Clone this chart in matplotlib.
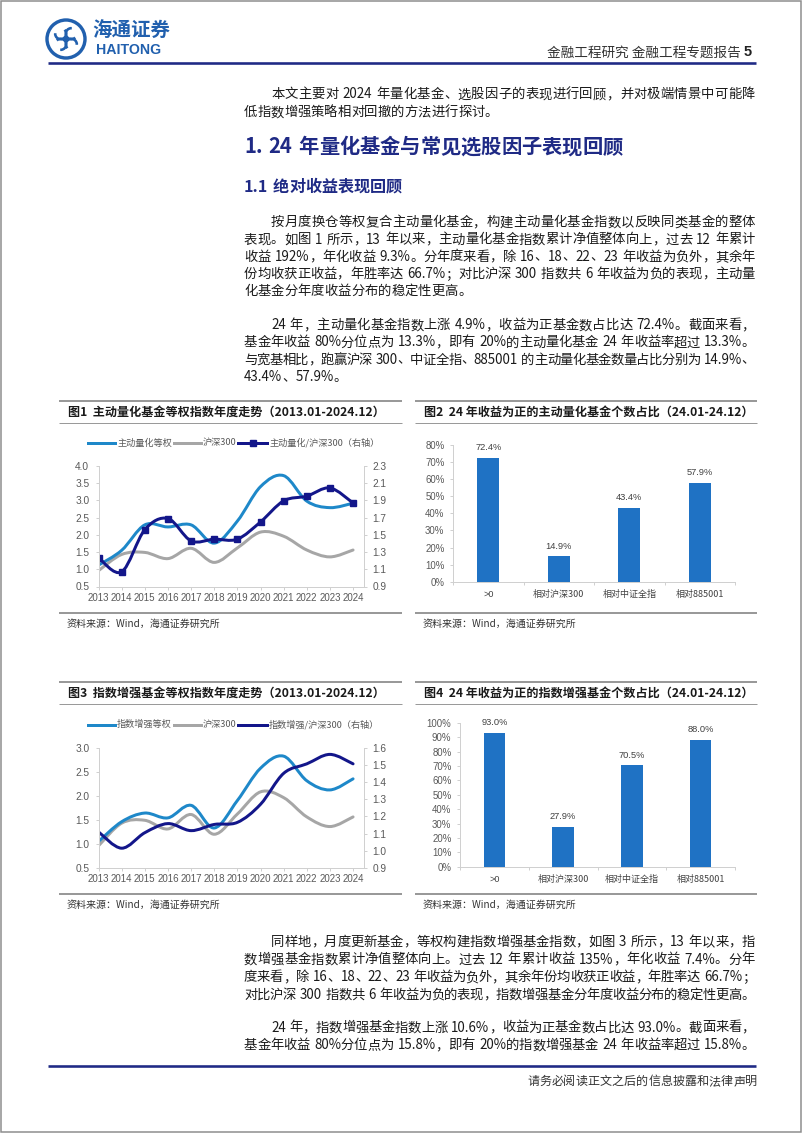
import matplotlib
matplotlib.use('Agg')
import matplotlib.pyplot as plt
from matplotlib.path import Path
from matplotlib.patches import PathPatch, Circle, Arc, Rectangle
from matplotlib.lines import Line2D
import numpy as np

# ---------------- data ----------------
years = ['2013', '2014', '2015', '2016', '2017', '2018', '2019', '2020', '2021', '2022', '2023', '2024']
quant_eq = [1.12, 1.55, 2.29, 2.23, 2.29, 1.76, 2.40, 3.40, 3.72, 2.98, 2.79, 2.92]
hs300 = [0.96, 1.43, 1.49, 1.31, 1.61, 1.20, 1.62, 2.08, 1.96, 1.56, 1.36, 1.56]
quant_ratio = [1.235, 1.07, 1.56, 1.69, 1.43, 1.45, 1.45, 1.65, 1.895, 1.95, 2.045, 1.87]
enh_eq = [1.05, 1.46, 1.64, 1.54, 1.80, 1.33, 1.90, 2.57, 2.82, 2.31, 2.12, 2.35]
enh_ratio = [1.11, 1.015, 1.105, 1.158, 1.117, 1.153, 1.165, 1.27, 1.45, 1.505, 1.56, 1.505]

bar_cats = ['>0', '相对沪深300', '相对中证全指', '相对885001']
quant_pos = [72.4, 14.9, 43.4, 57.9]
enh_pos = [93.0, 27.9, 70.5, 88.0]

fig1_title = '图1  主动量化基金等权指数年度走势（2013.01-2024.12）'
fig2_title = '图2  24 年收益为正的主动量化基金个数占比（24.01-24.12）'
fig3_title = '图3  指数增强基金等权指数年度走势（2013.01-2024.12）'
fig4_title = '图4  24 年收益为正的指数增强基金个数占比（24.01-24.12）'
legend1 = ['主动量化等权', '沪深300', '主动量化/沪深300（右轴）']
legend3 = ['指数增强等权', '沪深300', '指数增强/沪深300（右轴）']
source = '资料来源：Wind，海通证券研究所'

para1 = ['本文主要对 2024 年量化基金、选股因子的表现进行回顾，并对极端情景中可能降',
         '低指数增强策略相对回撤的方法进行探讨。']
heading1 = '1. 24 年量化基金与常见选股因子表现回顾'
heading2 = '1.1 绝对收益表现回顾'
para2 = ['按月度换仓等权复合主动量化基金，构建主动量化基金指数以反映同类基金的整体',
         '表现。如图 1 所示，13 年以来，主动量化基金指数累计净值整体向上，过去 12 年累计',
         '收益 192%，年化收益 9.3%。分年度来看，除 16、18、22、23 年收益为负外，其余年',
         '份均收获正收益，年胜率达 66.7%；对比沪深 300 指数共 6 年收益为负的表现，主动量',
         '化基金分年度收益分布的稳定性更高。']
para3 = ['24 年，主动量化基金指数上涨 4.9%，收益为正基金数占比达 72.4%。截面来看，',
         '基金年收益 80%分位点为 13.3%，即有 20%的主动量化基金 24 年收益率超过 13.3%。',
         '与宽基相比，跑赢沪深 300、中证全指、885001 的主动量化基金数量占比分别为 14.9%、',
         '43.4%、57.9%。']
para4 = ['同样地，月度更新基金，等权构建指数增强基金指数，如图 3 所示，13 年以来，指',
         '数增强基金指数累计净值整体向上。过去 12 年累计收益 135%，年化收益 7.4%。分年',
         '度来看，除 16、18、22、23 年收益为负外，其余年份均收获正收益，年胜率达 66.7%；',
         '对比沪深 300 指数共 6 年收益为负的表现，指数增强基金分年度收益分布的稳定性更高。']
para5 = ['24 年，指数增强基金指数上涨 10.6%，收益为正基金数占比达 93.0%。截面来看，',
         '基金年收益 80%分位点为 15.8%，即有 20%的指数增强基金 24 年收益率超过 15.8%。']
header_txt = '金融工程研究 金融工程专题报告'
page_no = '5'
footer_txt = '请务必阅读正文之后的信息披露和法律声明'

# ---------------- style ----------------
W, H = 802, 1133
CJK = ['Noto Sans CJK SC', 'DejaVu Sans']
LAT = ['Liberation Sans', 'Noto Sans CJK SC', 'DejaVu Sans']
NAVY = '#1F2A85'
C_LIGHT = '#1E88C9'
C_GRAY = '#A6A6A6'
C_DARK = '#13168A'
C_BAR = '#1F72C4'
C_TICK = '#595959'
C_AX = '#D0D0D0'

plt.rcParams['font.family'] = CJK
fig = plt.figure(figsize=(W / 100, H / 100), dpi=100)
ov = fig.add_axes([0, 0, 1, 1])
ov.set_xlim(0, W)
ov.set_ylim(H, 0)
ov.axis('off')
renderer = fig.canvas.get_renderer()


def px(p):
    return p * 72 / 100.0


def pax(l, t, r, b):
    a = fig.add_axes([l / W, 1 - b / H, (r - l) / W, (b - t) / H])
    a.patch.set_alpha(0)
    return a


def tokens(s):
    toks, buf, sp = [], '', 0
    for ch in s:
        if ch == ' ':
            if buf:
                toks.append((buf, sp)); buf = ''; sp = 0
            sp += 1
        elif ord(ch) < 128:
            buf += ch
        else:
            if buf:
                toks.append((buf, sp)); buf = ''; sp = 0
            toks.append((ch, sp)); sp = 0
    if buf:
        toks.append((buf, sp))
    return toks


def put_line(s, x0, yc, x1=None, size=9.6, color='#1a1a1a', weight='normal'):
    em = size * 100 / 72.0
    yb = yc + 0.36 * em
    objs = []
    for t, sp in tokens(s):
        o = ov.text(0, yb, t, fontsize=size, family=CJK, va='baseline', ha='left',
                    color=color, fontweight=weight)
        objs.append((o, sp))
    widths = [o.get_window_extent(renderer).width for o, _ in objs]
    space_w = 0.3 * em
    nat = sum(widths) + sum(sp for _, sp in objs) * space_w
    gap = 0.0
    if x1 is not None and len(objs) > 1:
        gap = (x1 - x0 - nat) / (len(objs) - 1)
    x = x0
    for (o, sp), w in zip(objs, widths):
        x += sp * space_w
        o.set_x(x)
        x += w + gap


def put_para(lines, y0, dy, left=244, indent=271, right=755, size=9.6, justify_last=False):
    for i, s in enumerate(lines):
        x0 = indent if i == 0 else left
        last = (i == len(lines) - 1) and not justify_last
        put_line(s, x0, y0 + i * dy, None if last else right, size=size)


def smooth_path(xs, ys):
    xs = np.asarray(xs, float); ys = np.asarray(ys, float)
    n = len(xs)
    verts = [(xs[0], ys[0])]
    codes = [Path.MOVETO]
    for i in range(n - 1):
        p0 = max(i - 1, 0); p3 = min(i + 2, n - 1)
        c1 = (xs[i] + (xs[i + 1] - xs[p0]) / 6.0, ys[i] + (ys[i + 1] - ys[p0]) / 6.0)
        c2 = (xs[i + 1] - (xs[p3] - xs[i]) / 6.0, ys[i + 1] - (ys[p3] - ys[i]) / 6.0)
        verts += [c1, c2, (xs[i + 1], ys[i + 1])]
        codes += [Path.CURVE4] * 3
    return Path(verts, codes)


def hline(y, x0, x1, color, lw_px):
    ov.add_line(Line2D([x0, x1], [y, y], color=color, lw=px(lw_px), solid_capstyle='butt'))


# ---------------- page frame / header ----------------
ov.add_patch(Rectangle((0.75, 0.75), W - 1.5, H - 1.5, fill=False, ec='#8C8C8C', lw=px(1.5)))

# logo (stylised ring with four swirls)
LOGO = '#2160AE'
cx, cy = 66, 39
ov.add_patch(Circle((cx, cy), 19, fill=False, ec=LOGO, lw=px(3.4)))
for k, ang in enumerate((45, 135, 225, 315)):
    r = np.radians(ang)
    ov.add_patch(Arc((cx + 7.5 * np.cos(r), cy + 7.5 * np.sin(r)), 11, 11,
                     angle=ang + 90, theta1=0, theta2=230, ec=LOGO, lw=px(2.6)))
ov.add_patch(Circle((cx, cy), 2.4, color=LOGO))
ov.text(92, 31, '海通证券', fontsize=14, family=CJK, color=LOGO, fontweight='bold',
        va='center', ha='left')
ov.text(96, 50, 'HAITONG', fontsize=10.2, family=LAT, color=LOGO, fontweight='bold',
        va='center', ha='left')

t5 = ov.text(752, 52 + 4.5, page_no, fontsize=10.5, family=LAT, fontweight='bold', color='#222222',
             va='baseline', ha='right')
w5 = t5.get_window_extent(renderer).width
ov.text(752 - w5 - 3, 52 + 4.5, header_txt, fontsize=9.8, family=CJK, color='#333333',
        va='baseline', ha='right')
hline(63.3, 48, 756, NAVY, 2.6)

# ---------------- body text (top) ----------------
put_para(para1, 93.5, 17.8)
put_line(heading1, 244, 146, size=14.6, color=NAVY, weight='bold')
put_line(heading2, 244, 186, size=11.6, color=NAVY, weight='bold')
put_para(para2, 221.5, 17.2)
put_para(para3, 324.3, 17.3)


# ---------------- chart frames ----------------
def frame(xl, xr, top, title):
    hline(top, xl, xr, '#808080', 1.6)
    ov.text(xl + 9, top + 11.5, title, fontsize=8.7, family=CJK, fontweight='bold',
            color='#1a1a1a', va='center', ha='left')
    hline(top + 22, xl, xr, '#9A9A9A', 1.0)
    hline(top + 212, xl, xr, '#808080', 1.6)
    ov.text(xl + 7.5, top + 223, source, fontsize=7.2, family=CJK, color='#333333',
            va='center', ha='left')


frame(59, 402, 401, fig1_title)
frame(415, 757, 401, fig2_title)
frame(59, 402, 682, fig3_title)
frame(415, 757, 682, fig4_title)


def legend(y, labels, with_marker):
    items = [(88, 115, C_LIGHT, False), (174, 201, C_GRAY, False), (238, 267, C_DARK, with_marker)]
    xt = [117, 203, 269]
    for (a, b, c, m), x, lab in zip(items, xt, labels):
        ov.add_line(Line2D([a, b], [y, y], color=c, lw=px(3)))
        if m:
            ov.add_line(Line2D([(a + b) / 2], [y], color=c, marker='s', ms=4.6, ls='none'))
        ov.text(x, y, lab, fontsize=6.6, family=CJK, color=C_TICK, va='center', ha='left')


legend(443, legend1, True)
legend(724.5, legend3, False)


# ---------------- line charts ----------------
def line_chart(box, left_vals, ratio_vals, ylim, yticks, ylim2, yticks2, markers):
    ax = pax(*box)
    x = np.arange(len(years))
    ax.set_xlim(0, len(years) - 1 + 0.45)
    ax.set_ylim(*ylim)
    ax.add_patch(PathPatch(smooth_path(x, hs300), fill=False, ec=C_GRAY, lw=px(3),
                           capstyle='round', joinstyle='round'))
    ax.add_patch(PathPatch(smooth_path(x, left_vals), fill=False, ec=C_LIGHT, lw=px(3),
                           capstyle='round', joinstyle='round'))
    ax.set_yticks(yticks)
    ax.set_yticklabels(['%.1f' % v for v in yticks])
    ax.set_xticks(x)
    ax.set_xticklabels(years)
    ax2 = ax.twinx()
    ax2.set_ylim(*ylim2)
    ax2.add_patch(PathPatch(smooth_path(x, ratio_vals), fill=False, ec=C_DARK, lw=px(3),
                            capstyle='round', joinstyle='round'))
    if markers:
        ax2.plot(x, ratio_vals, ls='none', marker='s', ms=4.6, color=C_DARK)
    ax2.set_yticks(yticks2)
    ax2.set_yticklabels(['%.1f' % v for v in yticks2])
    for a in (ax, ax2):
        for s in a.spines.values():
            s.set_color(C_AX)
            s.set_linewidth(px(1))
        a.spines['top'].set_visible(False)
        a.tick_params(axis='both', colors=C_AX, labelcolor=C_TICK, length=px(3), width=px(1),
                      labelsize=7.3, pad=4.5)
        for lab in a.get_yticklabels():
            lab.set_family(LAT)
    ax.tick_params(axis='x', labelsize=7.0, pad=2.5)
    for lab in ax.get_xticklabels():
        lab.set_family(LAT)
    return ax


line_chart((98.5, 466, 363.5, 586.5), quant_eq, quant_ratio, (0.5, 4.0),
           np.arange(0.5, 4.01, 0.5), (0.9, 2.3), np.arange(0.9, 2.31, 0.2), True)
line_chart((98.5, 747.5, 363.5, 868), enh_eq, enh_ratio, (0.5, 3.0),
           np.arange(0.5, 3.01, 0.5), (0.9, 1.6), np.arange(0.9, 1.61, 0.1), False)


# ---------------- bar charts ----------------
def bar_chart(box, vals, ymax):
    ax = pax(*box)
    x = np.arange(len(bar_cats))
    ax.bar(x, vals, width=0.31, color=C_BAR)
    ax.set_xlim(-0.5, len(bar_cats) - 0.5)
    ax.set_ylim(0, ymax)
    yt = np.arange(0, ymax + 0.1, 10)
    ax.set_yticks(yt)
    ax.set_yticklabels(['%d%%' % v for v in yt])
    ax.set_xticks(x)
    ax.set_xticklabels(bar_cats)
    ax.set_xticks(np.arange(-0.5, len(bar_cats), 1.0), minor=True)
    for i, v in enumerate(vals):
        ax.annotate('%.1f%%' % v, (i, v), xytext=(0, 4), textcoords='offset points',
                    ha='center', va='bottom', fontsize=6.7, family=LAT, color='#404040')
    for s in ('top', 'right'):
        ax.spines[s].set_visible(False)
    for s in ('left', 'bottom'):
        ax.spines[s].set_color(C_AX)
        ax.spines[s].set_linewidth(px(1))
    ax.tick_params(axis='y', colors=C_AX, labelcolor=C_TICK, length=px(3), width=px(1),
                   labelsize=6.9, pad=4)
    ax.tick_params(axis='x', which='major', length=0, labelcolor='#404040', labelsize=6.5, pad=6)
    ax.tick_params(axis='x', which='minor', colors=C_AX, length=px(3), width=px(1))
    for lab in ax.get_yticklabels():
        lab.set_family(LAT)
    for lab in ax.get_xticklabels():
        lab.set_family(CJK if any(ord(c) > 127 for c in lab.get_text()) else LAT)
    return ax


bar_chart((453, 445, 735, 581.7), quant_pos, 80)
bar_chart((460, 722.7, 735, 866.7), enh_pos, 100)

# ---------------- body text (bottom) ----------------
put_para(para4, 941, 17.7, justify_last=True)
put_para(para5, 1026.7, 17.6, justify_last=True)
hline(1065.8, 48, 756, NAVY, 2.6)
put_line(footer_txt, 527, 1081, size=8.7, color='#333333')

fig.savefig('out.png', dpi=100)
